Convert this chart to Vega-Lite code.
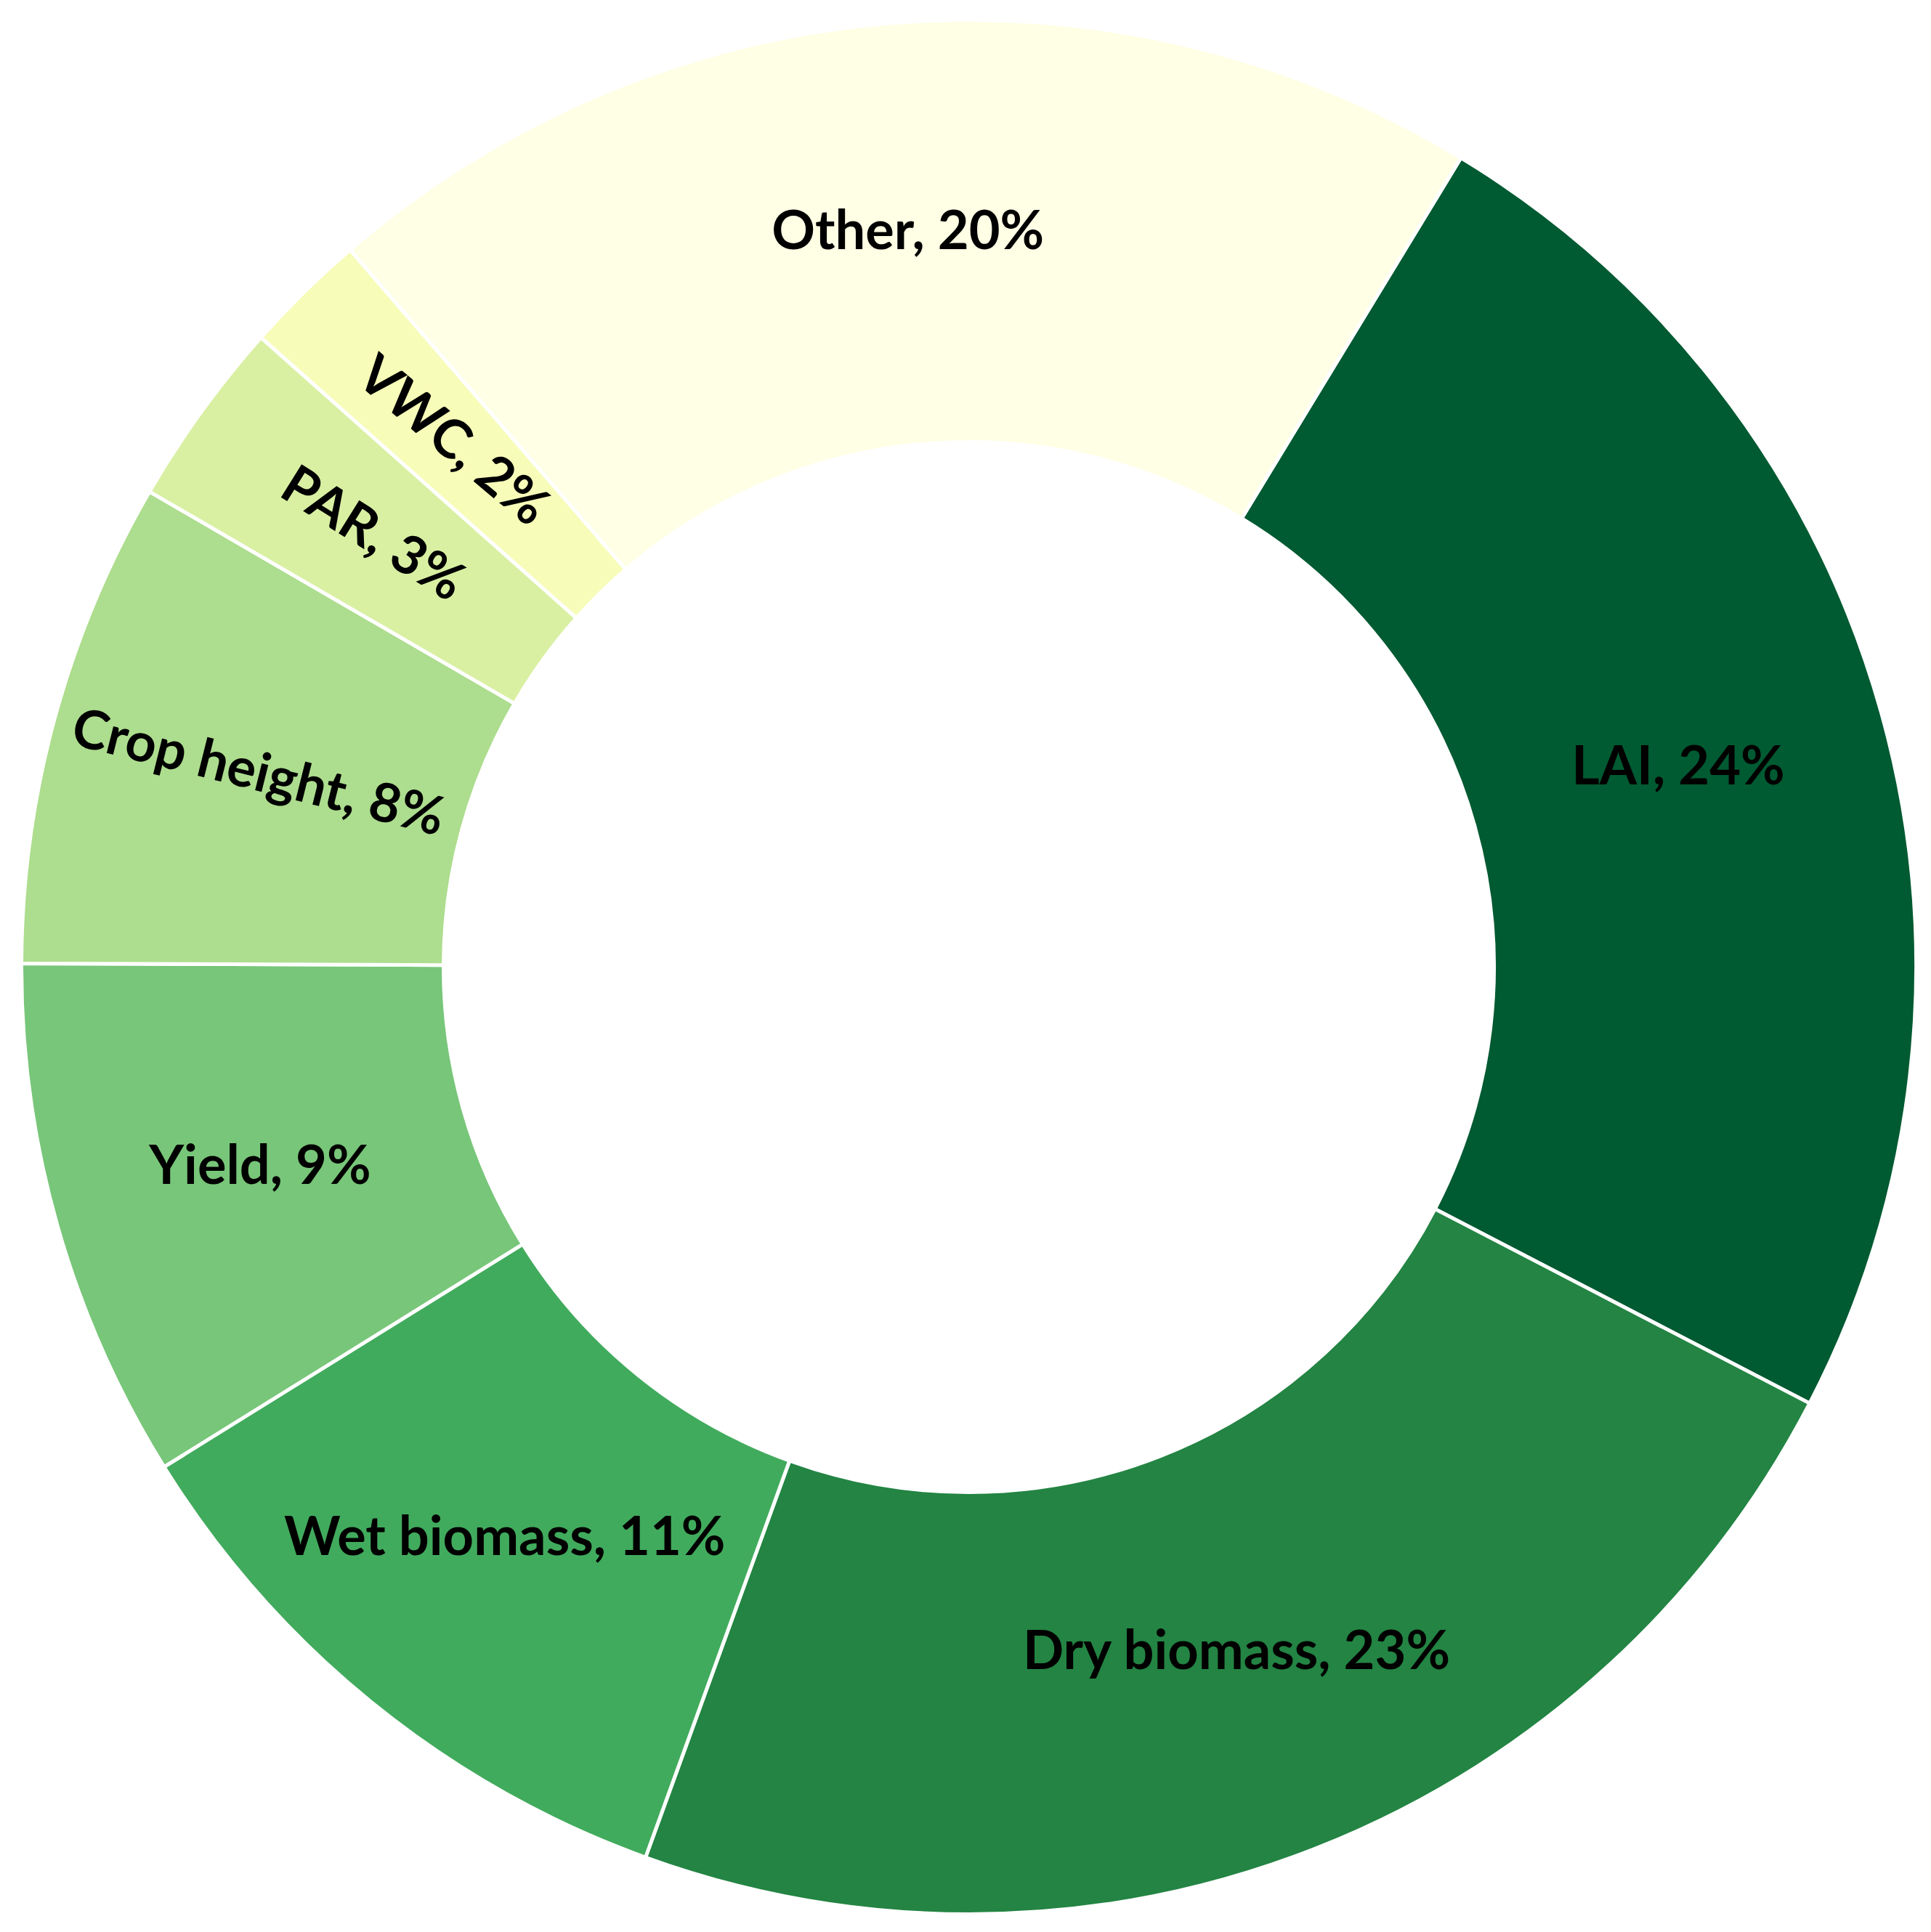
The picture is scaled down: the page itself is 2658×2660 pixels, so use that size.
{
  "$schema": "https://vega.github.io/schema/vega-lite/v6.json",
  "width": 2667,
  "height": 2663,
  "padding": 0,
  "autosize": "none",
  "background": "white",
  "config": {"view": {"stroke": null}},
  "data": {"values": [
    {"idx": 1, "category": "LAI", "label": "LAI, 24%", "value": 23.9},
    {"idx": 2, "category": "Dry biomass", "label": "Dry biomass,  23%", "value": 22.9},
    {"idx": 3, "category": "Wet biomass", "label": "Wet biomass,  11%", "value": 10.6},
    {"idx": 4, "category": "Yield", "label": "Yield, 9%", "value": 8.9},
    {"idx": 5, "category": "Crop height", "label": "Crop height, 8%", "value": 8.3},
    {"idx": 6, "category": "PAR", "label": "PAR, 3%", "value": 3.2},
    {"idx": 7, "category": "VWC", "label": "VWC, 2%", "value": 2.1},
    {"idx": 8, "category": "Other", "label": "Other,  20%", "value": 20.0}
  ]},
  "encoding": {
    "theta": {"field": "value", "type": "quantitative", "stack": true, "scale": {"range": [0.5463, 6.8295]}},
    "order": {"field": "idx", "type": "quantitative"}
  },
  "layer": [
    {
      "mark": {"type": "arc", "outerRadius": 1304, "innerRadius": 723, "stroke": "white", "strokeWidth": 5},
      "encoding": {
        "color": {
          "field": "category", "type": "nominal", "legend": null,
          "scale": {
            "domain": ["LAI", "Dry biomass", "Wet biomass", "Yield", "Crop height", "PAR", "VWC", "Other"],
            "range": ["#005a32", "#238443", "#41ab5d", "#78c679", "#addd8e", "#d9f0a3", "#f7fcb9", "#ffffe5"]
          }
        }
      }
    },
    {
      "mark": {"type": "text", "radius": 1014, "font": "Lato", "fontWeight": "bold", "fontSize": 74, "color": "black", "align": "center", "baseline": "middle"},
      "encoding": {
        "text": {"field": "label", "type": "nominal"},
        "angle": {
          "condition": [
            {"test": "datum.category === 'VWC'", "value": 40},
            {"test": "datum.category === 'PAR'", "value": 32},
            {"test": "datum.category === 'Crop height'", "value": 14}
          ],
          "value": 0
        }
      }
    }
  ]
}
